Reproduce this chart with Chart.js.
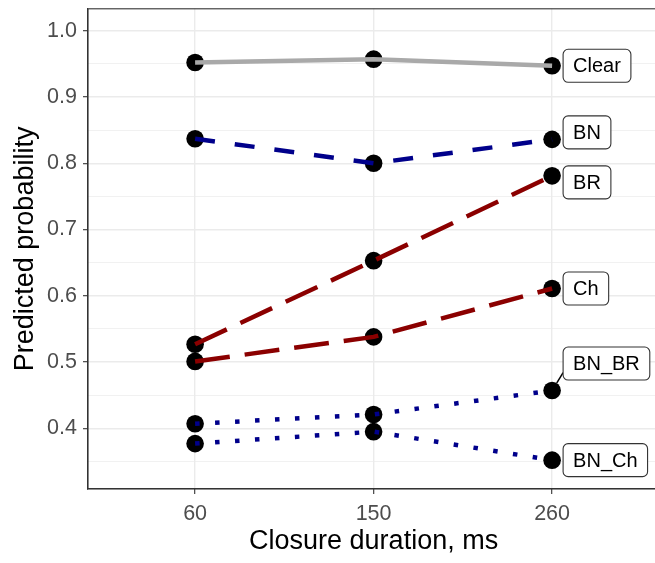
<!DOCTYPE html>
<html>
<head>
<meta charset="utf-8">
<script src="https://cdn.jsdelivr.net/npm/chart.js@4.4.1/dist/chart.umd.min.js"></script>
<style>
  html, body { margin: 0; padding: 0; overflow: hidden; background: #fff; }
  #wrap { position: absolute; left: 0; top: 0; width: 668px; height: 563px; }
  #chart { display: block; width: 668px; height: 563px; }
</style>
</head>
<body>
<div id="wrap"><canvas id="chart" width="668" height="563"></canvas></div>
<script>
// data
var durations = ['60', '150', '260'];
var groups = ['Clear', 'BN', 'BR', 'Ch', 'BN_BR', 'BN_Ch'];
var clearVals = [0.952, 0.957, 0.947];
var bnVals = [0.837, 0.800, 0.836];
var brVals = [0.527, 0.653, 0.781];
var chVals = [0.501, 0.538, 0.611];
var bnBrVals = [0.407, 0.421, 0.457];
var bnChVals = [0.377, 0.395, 0.352];
var yTicks = [0.4, 0.5, 0.6, 0.7, 0.8, 0.9, 1.0];

var seriesVals = [clearVals, bnVals, brVals, chVals, bnBrVals, bnChVals];

// styles (kept apart from the data)
var lineColors = ['#A9A9A9', '#00008B', '#8B0000', '#8B0000', '#00008B', '#00008B'];
var lineDash = [[], [20, 20], [35, 15], [35, 15], [4.5, 15.5], [4.5, 15.5]];
var labelNudge = [0, -7, 6.5, 0, -27, 0]; // px, vertical offset of the label boxes

var FONT = "'Liberation Sans', Arial, Helvetica, sans-serif";

function pts(vals) {
  return vals.map(function (v, i) { return { x: i + 1, y: v }; });
}

var datasets = [];
groups.forEach(function (g, i) {
  datasets.push({
    label: g,
    data: pts(seriesVals[i]),
    borderColor: lineColors[i],
    borderWidth: 4.5,
    borderDash: lineDash[i],
    borderCapStyle: 'butt',
    pointRadius: 0,
    pointHoverRadius: 0,
    fill: false,
    tension: 0,
    order: 1
  });
  datasets.push({
    label: g + ' points',
    data: pts(seriesVals[i]),
    showLine: false,
    pointRadius: 8.8,
    pointBackgroundColor: '#000',
    pointBorderWidth: 0,
    order: 2
  });
});

function isMajor(v) {
  return yTicks.some(function (t) { return Math.abs(t - v) < 1e-6; });
}

var panelBorder = {
  id: 'panelBorder',
  afterDatasetsDraw: function (chart) {
    var a = chart.chartArea, ctx = chart.ctx;
    ctx.save();
    ctx.strokeStyle = '#333333';
    ctx.lineWidth = 1.1;
    ctx.strokeRect(a.left, a.top, a.right - a.left, a.bottom - a.top);
    ctx.restore();
  }
};

var boxLabels = {
  id: 'boxLabels',
  afterDatasetsDraw: function (chart) {
    var ctx = chart.ctx, xs = chart.scales.x, ys = chart.scales.y;
    var last = durations.length;
    ctx.save();
    ctx.font = '20px ' + FONT;
    groups.forEach(function (g, i) {
      var px = xs.getPixelForValue(last);
      var py = ys.getPixelForValue(seriesVals[i][last - 1]);
      var w = ctx.measureText(g).width + 20;
      var h = 33;
      var left = px + 11;
      var cy = py + labelNudge[i];
      var top = cy - h / 2;
      if (Math.abs(labelNudge[i]) > 12) {
        var tx = left, ty = cy + 9;
        var dx = tx - px, dy = ty - py, d = Math.sqrt(dx * dx + dy * dy);
        ctx.strokeStyle = '#000';
        ctx.lineWidth = 1.5;
        ctx.beginPath();
        ctx.moveTo(px + dx / d * 8.8, py + dy / d * 8.8);
        ctx.lineTo(tx, ty);
        ctx.stroke();
      }
      ctx.beginPath();
      ctx.roundRect(left, top, w, h, 5);
      ctx.fillStyle = '#fff';
      ctx.fill();
      ctx.strokeStyle = '#333';
      ctx.lineWidth = 1.1;
      ctx.stroke();
      ctx.fillStyle = '#000';
      ctx.textAlign = 'center';
      ctx.textBaseline = 'middle';
      ctx.fillText(g, left + w / 2, cy + 1);
    });
    ctx.restore();
  }
};

new Chart(document.getElementById('chart').getContext('2d'), {
  type: 'line',
  data: { datasets: datasets },
  options: {
    responsive: false,
    animation: false,
    devicePixelRatio: 1,
    layout: { padding: { top: 6, right: 3.5, left: 0, bottom: 0 } },
    plugins: { legend: { display: false }, tooltip: { enabled: false } },
    scales: {
      x: {
        type: 'linear',
        min: 0.4,
        max: 3.6,
        afterBuildTicks: function (scale) {
          scale.ticks = durations.map(function (d, i) { return { value: i + 1 }; });
        },
        afterFit: function (scale) {
          scale.height = 74;
          scale.paddingLeft = 0;
          scale.paddingRight = 0;
        },
        ticks: {
          callback: function (v) { return durations[v - 1]; },
          font: { family: FONT, size: 21.5 },
          color: '#4D4D4D',
          padding: 7,
          maxRotation: 0
        },
        grid: { color: '#EBEBEB', lineWidth: 1.4, tickColor: '#333333', tickLength: 5, tickWidth: 1.1 },
        border: { display: true, color: '#333333', width: 1.1 },
        title: {
          display: true,
          text: 'Closure duration, ms',
          font: { family: FONT, size: 27 },
          color: '#000',
          padding: { top: 5.5, bottom: 5.5 }
        }
      },
      y: {
        type: 'linear',
        min: 0.3085,
        max: 1.033,
        afterBuildTicks: function (scale) {
          var t = [];
          yTicks.forEach(function (v) { t.push({ value: v - 0.05 }); t.push({ value: v }); });
          scale.ticks = t;
        },
        afterFit: function (scale) {
          scale.width = 88;
          scale.paddingTop = 0;
          scale.paddingBottom = 0;
        },
        ticks: {
          callback: function (v) { return isMajor(v) ? v.toFixed(1) : ''; },
          font: { family: FONT, size: 21.5 },
          color: '#4D4D4D',
          padding: 6
        },
        grid: {
          color: '#EBEBEB',
          lineWidth: function (c) { return c.tick && isMajor(c.tick.value) ? 1.4 : 0.7; },
          tickColor: function (c) { return c.tick && isMajor(c.tick.value) ? '#333333' : 'rgba(0,0,0,0)'; },
          tickLength: 5,
          tickWidth: 1.1
        },
        border: { display: true, color: '#333333', width: 1.1 },
        title: {
          display: true,
          text: 'Predicted probability',
          font: { family: FONT, size: 27 },
          color: '#000',
          padding: { top: 9, bottom: 9 }
        }
      }
    }
  },
  plugins: [panelBorder, boxLabels]
});
</script>
</body>
</html>
